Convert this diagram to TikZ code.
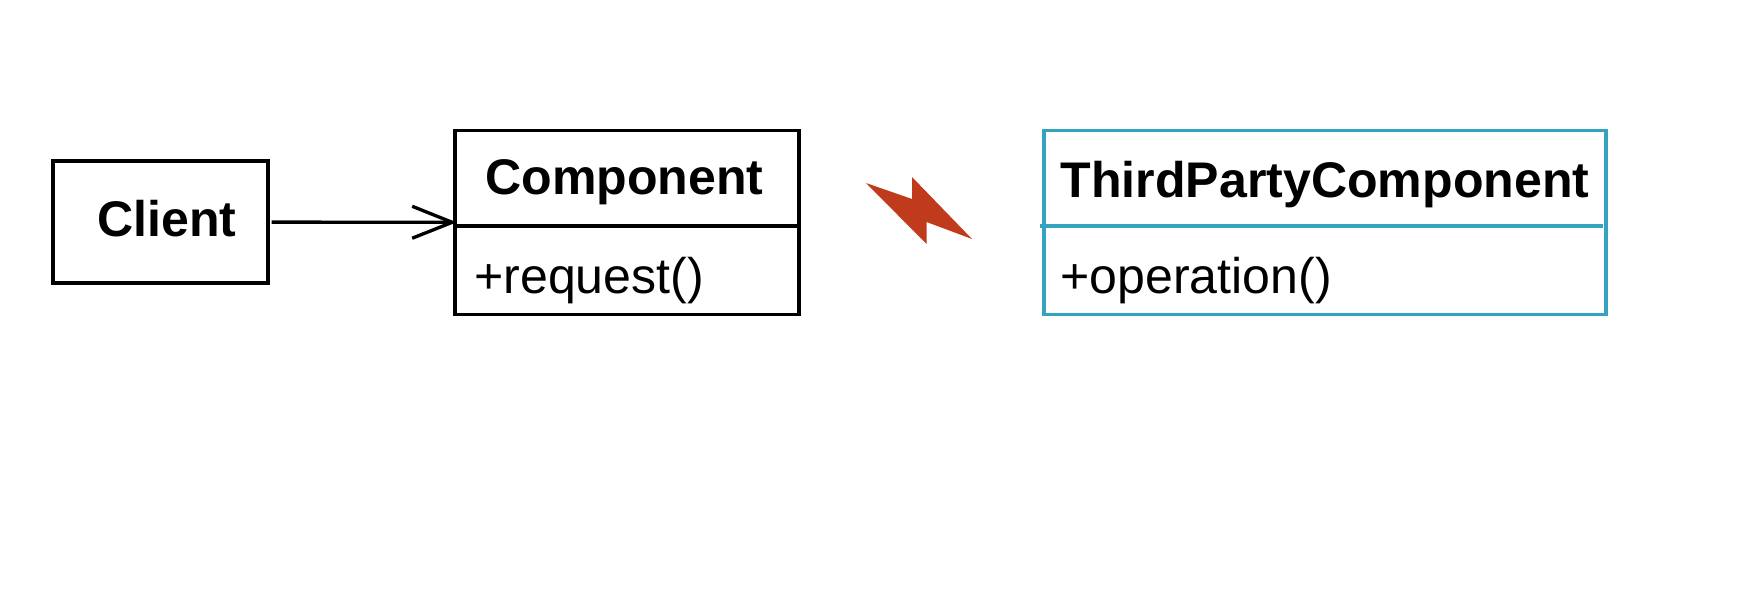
\documentclass[tikz,border=0pt]{standalone}
\usepackage{fontspec}
\setmainfont{Liberation Sans}
\usetikzlibrary{arrows.meta}
\definecolor{boltred}{HTML}{BF3B1B}
\definecolor{thirdblue}{HTML}{35A3C0}
\tikzset{
  classbox/.style={draw,line width=2.1pt,inner sep=0pt,fill=white},
  classname/.style={inner sep=0pt,font=\fontsize{28.5}{34}\selectfont\bfseries},
  classop/.style={inner sep=0pt,font=\fontsize{28.5}{34}\selectfont},
  assoc/.style={-{Straight Barb[length=0.8cm,width=0.64cm,line width=1.9pt]},line width=1.9pt,shorten <=1pt,shorten >=-2pt},
}
\begin{document}
\begin{tikzpicture}[x=0.02cm,y=-0.02cm]
    \useasboundingbox (0,0) rectangle (1742,594);
    %Cajas
    \node[classbox,minimum width=215*0.02cm,minimum height=122*0.02cm] (client) at (160.5,222) {};
    \node[classbox,minimum width=344*0.02cm,minimum height=184*0.02cm] (component) at (627,222.5) {};
    \node[classbox,draw=thirdblue,minimum width=562*0.02cm,minimum height=184*0.02cm] (third) at (1325,222.5) {};
    %Textos
    \node[classname] (clientname) at (167,218.5) {Client};
    \node[classname] (componentname) at (624.5,182) {Component};
    \node[classop,anchor=west] (componentop) at (474,281) {+request()};
    \node[classname] (thirdname) at (1325,185) {ThirdPartyComponent};
    \node[classop,anchor=west] (thirdop) at (1060,281) {+operation()};
    %Separadores
    \coordinate (compsep) at (453,226);
    \coordinate (thirdsepa) at (1040,226);
    \coordinate (thirdsepb) at (1603,226);
    \draw[line width=2.1pt] (compsep) -- (compsep -| component.east);
    \draw[line width=2.1pt,thirdblue] (thirdsepa) -- (thirdsepb);
    \draw[assoc] (client) -- (component);
    %Rayo
    \fill[boltred] (866,183) -- (912,199) -- (912,177) -- (972,239) -- (926.5,222) -- (926.5,244) -- cycle;
\end{tikzpicture}
\end{document}
